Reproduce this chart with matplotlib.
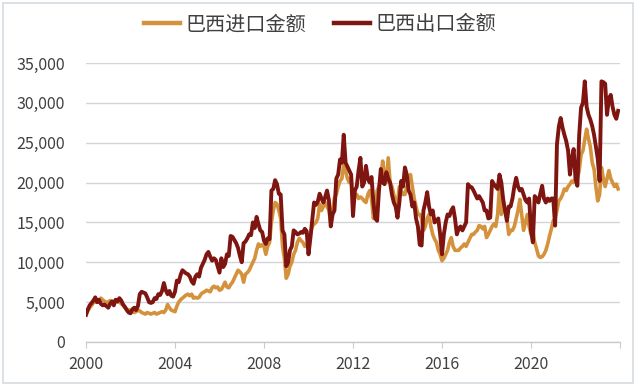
import numpy as np
import matplotlib
matplotlib.use("Agg")
import matplotlib.pyplot as plt
from matplotlib.patches import Rectangle
from matplotlib.ticker import FuncFormatter

plt.rcParams['font.family'] = ['Noto Sans CJK SC', 'DejaVu Sans']

# monthly values, Jan 2000 - Dec 2023
start_year = 2000
imports = [
    3500, 3900, 4300, 4600, 4900, 5100, 5000, 5200, 5500, 5300, 5100, 5000,   # 2000
    5000, 5200, 4900, 5100, 5300, 5000, 5000, 4800, 4600, 4300, 4100, 4000,   # 2001
    4000, 3800, 3700, 3800, 4000, 3900, 3700, 3600, 3500, 3700, 3600, 3500,   # 2002
    3600, 3700, 3500, 3600, 3700, 3800, 3700, 4000, 4700, 4300, 4000, 3900,   # 2003
    3800, 4500, 5000, 5300, 5500, 5700, 5900, 6000, 5800, 6000, 5500, 5600,   # 2004
    5500, 5600, 6000, 6200, 6300, 6500, 6400, 6300, 6800, 7000, 6800, 6900,   # 2005
    6500, 6600, 7000, 7500, 6900, 6800, 7200, 7500, 8000, 8500, 9000, 8800,   # 2006
    8500, 7500, 8500, 8700, 9000, 9500, 10000, 10500, 11500, 12300, 12000, 12200,  # 2007
    12000, 11000, 12000, 12500, 15000, 16500, 17500, 17300, 16500, 15500, 12000, 10500,  # 2008
    8000, 8500, 9500, 10000, 11000, 11500, 12500, 13000, 12700, 12500, 12000, 12300,  # 2009
    12000, 13500, 14500, 14800, 15000, 15500, 17300, 16500, 17000, 17500, 17000, 16500,  # 2010
    15000, 16500, 18100, 18500, 19500, 20200, 20500, 22300, 21500, 20500, 20000, 20600,  # 2011
    17500, 18500, 18500, 18000, 18200, 18000, 17700, 17500, 18500, 19000, 18000, 15500,  # 2012
    16500, 19000, 19500, 20500, 22700, 21000, 20000, 23100, 20000, 19500, 18500, 17500,  # 2013
    17500, 19500, 19000, 18500, 18500, 19500, 20000, 21000, 19500, 18000, 17000, 16000,  # 2014
    16000, 15500, 14000, 14500, 15500, 16000, 14500, 13500, 12900, 12500, 11500, 11000,  # 2015
    10200, 10500, 11000, 11500, 12500, 13100, 12000, 11500, 11500, 11500, 11800, 12000,  # 2016
    12300, 12000, 12500, 13000, 13500, 13500, 13800, 14000, 14600, 14500, 14200, 14500,  # 2017
    13100, 13500, 14000, 14500, 14800, 14500, 16000, 19400, 16000, 17000, 16500, 15500,  # 2018
    13500, 14000, 14000, 14500, 15500, 16500, 17900, 16000, 14000, 15000, 16000, 14500,  # 2019
    13500, 14000, 12500, 11700, 10800, 10600, 10700, 11000, 11500, 12300, 13300, 14200,  # 2020
    15200, 15500, 16500, 17700, 18000, 18500, 19200, 19000, 19500, 19800, 20200, 20000,  # 2021
    20500, 20500, 21500, 23500, 24000, 25400, 26700, 25500, 24500, 22500, 21700, 19500,  # 2022
    17700, 18500, 21900, 20500, 19500, 20500, 21500, 20500, 20000, 19500, 19800, 19200,  # 2023
]
exports = [
    3400, 4100, 4600, 4900, 5200, 5600, 5000, 5300, 4800, 4600, 4700, 4500,   # 2000
    4300, 4800, 5100, 4600, 5300, 5100, 5500, 5200, 4700, 4400, 4000, 3700,   # 2001
    3600, 4100, 4300, 4000, 4500, 6000, 6300, 6200, 6100, 5600, 5000, 4900,   # 2002
    5000, 5500, 5400, 6000, 5900, 6400, 7400, 6500, 6000, 6400, 5800, 5700,   # 2003
    6300, 7700, 7500, 8400, 9000, 8800, 8600, 8500, 8200, 7600, 7300, 8200,   # 2004
    8500, 8200, 9300, 9800, 10300, 11000, 11300, 10700, 10200, 10500, 10300, 9500,  # 2005
    8700, 10500, 9400, 9800, 11000, 10800, 13300, 13200, 12800, 12400, 11800, 10800,  # 2006
    10000, 12400, 12600, 13000, 13500, 13400, 15000, 14300, 15700, 14800, 14000, 13800,  # 2007
    12700, 12300, 13000, 12900, 19000, 19200, 20300, 19800, 18600, 18500, 14000, 13500,  # 2008
    9500, 10000, 11500, 12000, 14000, 13800, 13500, 13600, 13800, 13700, 14200, 13900,  # 2009
    11000, 13000, 15200, 17500, 17200, 17600, 18600, 18000, 17500, 18200, 19000, 17800,  # 2010
    14500, 16000, 16500, 20500, 21000, 22900, 22500, 26000, 22500, 22000, 21500, 21000,  # 2011
    15800, 19000, 19500, 21500, 23100, 19500, 20000, 22100, 20500, 20000, 20700, 17500,  # 2012
    15500, 15200, 19000, 21700, 20000, 19800, 21300, 20500, 20000, 18500, 17500, 17000,  # 2013
    15600, 17500, 20200, 19500, 21900, 21000, 19000, 18500, 17000, 17500, 15500, 14500,  # 2014
    12200, 12100, 16500, 17500, 18800, 17000, 16000, 16500, 15000, 15200, 15500, 13500,  # 2015
    11000, 13500, 15000, 16000, 15800, 16500, 16900, 15500, 13500, 14200, 14500, 14000,  # 2016
    14500, 15000, 19800, 19500, 19400, 19000, 18500, 18000, 18300, 17900, 17500, 16500,  # 2017
    16500, 15500, 15600, 20200, 19800, 19500, 19200, 21000, 20000, 17900, 16500, 15200,  # 2018
    17000, 17000, 18000, 19500, 20600, 19500, 19000, 19200, 18500, 17800, 17500, 18000,  # 2019
    14000, 12500, 18300, 18000, 17500, 18600, 19600, 18000, 17500, 18000, 17700, 18000,  # 2020
    18000, 14600, 24800, 27000, 28100, 26900, 26000, 25200, 24000, 21000, 23000, 24200,  # 2021
    20500, 19600, 26000, 29400, 30000, 32700, 29500, 28500, 27900, 27100, 26000, 24500,  # 2022
    23000, 20200, 32700, 32600, 32400, 28500, 30500, 31000, 29500, 28500, 28000, 29000,  # 2023
]
year_ticks = [2000, 2004, 2008, 2012, 2016, 2020]
y_ticks = [0, 5000, 10000, 15000, 20000, 25000, 30000, 35000]
labels = ['巴西进口金额', '巴西出口金额']

IMPORT_COLOR = '#D4923C'
EXPORT_COLOR = '#7E1510'
TEXT_COLOR = '#404040'


def main():
    t = start_year + np.arange(len(exports)) / 12.0

    fig = plt.figure(figsize=(6.4, 3.85), dpi=100)
    fig.patch.set_facecolor('white')
    fig.patches.append(Rectangle((3 / 640, 2 / 385), 630 / 640, 380 / 385,
                                 transform=fig.transFigure, fill=False,
                                 edgecolor='#d6dbe1', linewidth=1.2))

    ax = fig.add_axes([86 / 640, 43 / 385, 534 / 640, 279 / 385])
    ax.plot(t, imports, color=IMPORT_COLOR, linewidth=2.6, label=labels[0],
            solid_joinstyle='round')
    ax.plot(t, exports, color=EXPORT_COLOR, linewidth=2.8, label=labels[1],
            solid_joinstyle='round')

    ax.set_xlim(2000, 2024)
    ax.set_ylim(0, 35000)
    ax.set_yticks(y_ticks)
    ax.set_xticks(year_ticks + [2024])
    ax.set_xticklabels([str(y) for y in year_ticks] + [''])
    ax.yaxis.set_major_formatter(FuncFormatter(lambda v, p: f'{int(v):,}'))

    ax.grid(axis='y', color='#d3d5d9', linewidth=1)
    ax.set_axisbelow(True)
    for side in ['top', 'right', 'left']:
        ax.spines[side].set_visible(False)
    ax.spines['bottom'].set_color('#c8cacd')
    ax.spines['bottom'].set_linewidth(1)

    ax.tick_params(axis='y', length=0, pad=15, labelsize=11.5,
                   labelcolor=TEXT_COLOR)
    ax.tick_params(axis='x', length=4, color='#c8cacd', pad=6,
                   labelsize=11.5, labelcolor=TEXT_COLOR)

    leg = fig.legend(loc='center', bbox_to_anchor=(0.5, 1 - 25 / 385),
                     ncol=2, frameon=False, fontsize=14.5, handlelength=1.8,
                     handletextpad=0.25, columnspacing=1.4)
    for line in leg.get_lines():
        line.set_linewidth(3.2)
    for txt in leg.get_texts():
        txt.set_color(TEXT_COLOR)

    fig.savefig('out.png', dpi=100)


if __name__ == "__main__":
    main()
